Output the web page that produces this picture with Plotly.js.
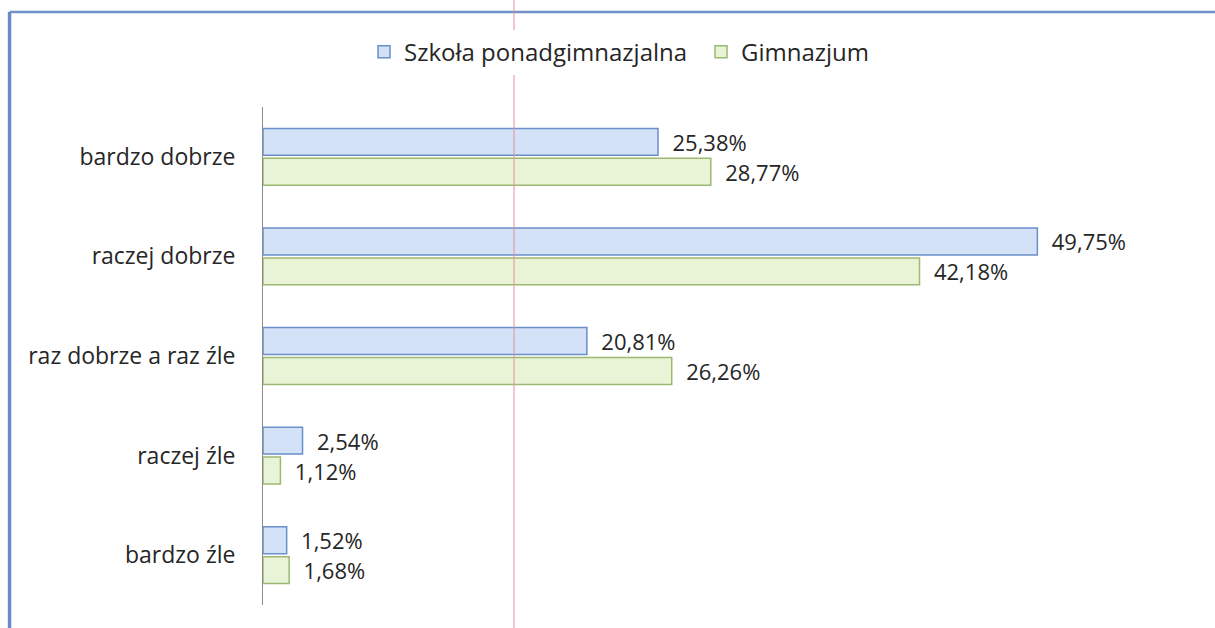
<!DOCTYPE html>
<html>
<head>
<meta charset="utf-8">
<script src="https://cdn.plot.ly/plotly-3.0.1.min.js"></script>
<style>html,body{margin:0;padding:0;background:#fff;}#chart{width:1215px;height:628px;}</style>
</head>
<body>
<div id="chart"></div>
<script>
const categories = ["bardzo dobrze", "raczej dobrze", "raz dobrze a raz źle", "raczej źle", "bardzo źle"];
const seriesNames = ["Szkoła ponadgimnazjalna", "Gimnazjum"];
const ponadgimnazjalna = [25.38, 49.75, 20.81, 2.54, 1.52];
const gimnazjum = [28.77, 42.18, 26.26, 1.12, 1.68];

const FONT = "'Open Sans', sans-serif";
const TEXTCOL = "#262626";

const traces = [
  {
    type: "bar", orientation: "h", name: seriesNames[0],
    y: categories, x: ponadgimnazjalna,
    marker: {color: "#d3e2f6", line: {color: "#6a8fca", width: 1.5}},
    texttemplate: "\u00a0\u00a0%{x:.2f}%", textposition: "outside", cliponaxis: false,
    constraintext: "none",
    textfont: {family: FONT, size: 22, color: TEXTCOL},
    hoverinfo: "skip"
  },
  {
    type: "bar", orientation: "h", name: seriesNames[1],
    y: categories, x: gimnazjum,
    marker: {color: "#e9f4d6", line: {color: "#9cb872", width: 1.5}},
    texttemplate: "\u00a0\u00a0%{x:.2f}%", textposition: "outside", cliponaxis: false,
    constraintext: "none",
    textfont: {family: FONT, size: 22, color: TEXTCOL},
    hoverinfo: "skip"
  }
];

const layout = {
  width: 1215, height: 628,
  margin: {l: 263, r: 15, t: 107, b: 23},
  paper_bgcolor: "#ffffff", plot_bgcolor: "#ffffff",
  separators: ", ",
  barmode: "group", bargap: 0.4, bargroupgap: 0.1,
  font: {family: FONT, size: 22, color: TEXTCOL},
  showlegend: true,
  legend: {
    orientation: "h", xref: "container", yref: "container",
    x: 0.2996, xanchor: "left", y: 0.917, yanchor: "middle",
    font: {family: FONT, size: 24, color: TEXTCOL},
    traceorder: "normal", entrywidth: 292, entrywidthmode: "pixels"
  },
  xaxis: {range: [0, 60.2], showgrid: false, zeroline: false, showline: false, showticklabels: false, ticks: ""},
  yaxis: {
    autorange: "reversed", showgrid: false, zeroline: false,
    showline: true, linecolor: "#8c8c8c", linewidth: 1,
    ticks: "", ticklabelstandoff: 22,
    tickfont: {family: FONT, size: 23, color: TEXTCOL}
  },
  shapes: [
    {type: "line", xref: "paper", yref: "paper", x0: -0.2705, x1: 1.016, y0: 1.1908, y1: 1.1908, line: {color: "#7092c8", width: 2.5}},
    {type: "line", xref: "paper", yref: "paper", x0: -0.2705, x1: -0.2705, y0: 1.1908, y1: -0.05, line: {color: "#6a8cc4", width: 3.5}},
    {type: "line", xref: "paper", yref: "paper", x0: 0.2679, x1: 0.2679, y0: 1.22, y1: -0.05, line: {color: "#e48f9a", width: 1}, layer: "above"}
  ]
};

Plotly.newPlot("chart", traces, layout, {displayModeBar: false, staticPlot: true});
</script>
</body>
</html>
